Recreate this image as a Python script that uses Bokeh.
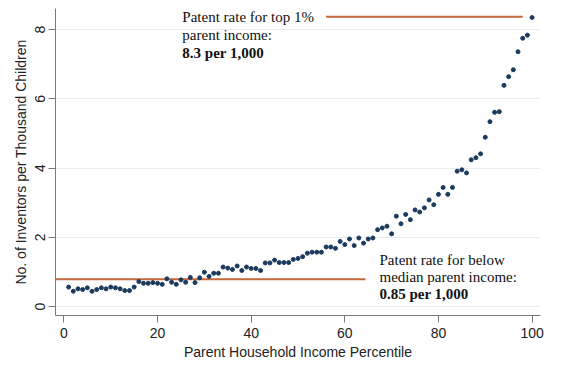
from bokeh.plotting import figure
from bokeh.models import Range1d, FixedTicker
from bokeh.core.properties import value
from bokeh.embed import file_html
from bokeh.resources import INLINE

# ---- data ----
percentile = list(range(1, 101))
inventors_per_1000 = [
    0.56, 0.44, 0.51, 0.49, 0.54, 0.44, 0.49, 0.54, 0.51, 0.56,
    0.54, 0.51, 0.46, 0.46, 0.56, 0.72, 0.67, 0.67, 0.69, 0.67,
    0.64, 0.80, 0.70, 0.64, 0.77, 0.70, 0.84, 0.69, 0.83, 0.99,
    0.87, 0.96, 0.96, 1.14, 1.11, 1.07, 1.17, 1.04, 1.14, 1.10,
    1.10, 1.04, 1.26, 1.26, 1.34, 1.27, 1.27, 1.27, 1.36, 1.39,
    1.44, 1.54, 1.57, 1.57, 1.57, 1.72, 1.72, 1.68, 1.88, 1.79,
    1.95, 1.76, 1.98, 1.83, 1.95, 1.98, 2.22, 2.27, 2.32, 2.10,
    2.61, 2.39, 2.66, 2.51, 2.79, 2.73, 2.85, 3.08, 2.94, 3.24,
    3.44, 3.24, 3.44, 3.91, 3.95, 3.86, 4.24, 4.30, 4.41, 4.89,
    5.34, 5.61, 5.63, 6.39, 6.64, 6.84, 7.36, 7.75, 7.84, 8.35,
]
below_median_rate = 0.79          # drawn level of the "below median" reference line
below_median_span = [-1.8, 64.4]  # x extent of that line
top1_rate = 8.37                  # drawn level of the "top 1%" reference line
top1_span = [56.0, 98.0]

x_ticks = [0, 20, 40, 60, 80, 100]
y_ticks = [0, 2, 4, 6, 8]

top_note = ["Patent rate for top 1%", "parent income:", "8.3 per 1,000"]
low_note = ["Patent rate for below", "median parent income:", "0.85 per 1,000"]

NAVY = "#1b3b5e"
ORANGE = "#c4673a"
AXIS = "#7a7a7a"

p = figure(width=561, height=370, output_backend="svg", toolbar_location=None,
           x_range=Range1d(-1.8, 101.8), y_range=Range1d(-0.26, 8.61),
           min_border_left=55, min_border_right=21, min_border_top=8,
           min_border_bottom=55)
p.outline_line_color = None
p.background_fill_color = "white"

# reference lines
p.line(below_median_span, [below_median_rate] * 2, line_color=ORANGE, line_width=2)
p.line(top1_span, [top1_rate] * 2, line_color=ORANGE, line_width=2)

# points
p.scatter(percentile, inventors_per_1000, size=4, fill_color=NAVY,
          line_color=NAVY, marker="circle")

# annotations
font = value("Liberation Serif")
for i, t in enumerate(top_note):
    p.text([25.3], [8.37 - 0.52 * i], text=[t], text_font=font,
           text_font_size="15px", text_baseline="middle", text_align="left",
           text_color="#111111", text_font_style="bold" if i == 2 else "normal")
for i, t in enumerate(low_note):
    p.text([67.4], [1.33 - 0.48 * i], text=[t], text_font=font,
           text_font_size="15px", text_baseline="middle", text_align="left",
           text_color="#111111", text_font_style="bold" if i == 2 else "normal")

# axes
p.xaxis.ticker = FixedTicker(ticks=x_ticks)
p.yaxis.ticker = FixedTicker(ticks=y_ticks)
p.xaxis.axis_label = "Parent Household Income Percentile"
p.yaxis.axis_label = "No. of Inventors per Thousand Children"
for ax in (p.xaxis[0], p.yaxis[0]):
    ax.axis_line_color = AXIS
    ax.major_tick_line_color = AXIS
    ax.major_tick_out = 7
    ax.major_tick_in = 0
    ax.minor_tick_line_color = None
    ax.major_label_text_font = "Liberation Sans"
    ax.major_label_text_font_size = "14px"
    ax.major_label_text_color = "#222222"
    ax.axis_label_text_font = "Liberation Sans"
    ax.axis_label_text_font_size = "14px"
    ax.axis_label_text_font_style = "normal"
    ax.axis_label_text_color = "#222222"
p.yaxis.major_label_orientation = "vertical"
p.yaxis.major_label_standoff = 3
p.yaxis.axis_label_standoff = 4
p.xaxis.major_label_standoff = 5
p.xaxis.axis_label_standoff = 3

p.xgrid.grid_line_color = None
p.ygrid.grid_line_color = "#e6eef2"
p.ygrid.grid_line_width = 1

open("out.html", "w").write(file_html(p, INLINE))
